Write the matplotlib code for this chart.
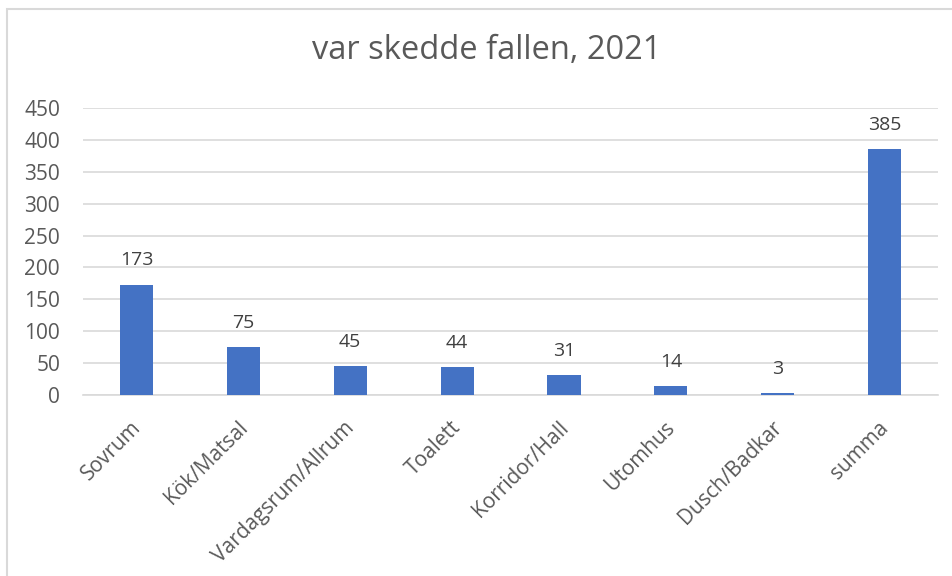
import matplotlib.pyplot as plt
from matplotlib.patches import Rectangle
from matplotlib.transforms import ScaledTranslation

categories = ["Sovrum", "Kök/Matsal", "Vardagsrum/Allrum", "Toalett",
              "Korridor/Hall", "Utomhus", "Dusch/Badkar", "summa"]
counts = [173, 75, 45, 44, 31, 14, 3, 385]
yticks = [0, 50, 100, 150, 200, 250, 300, 350, 400, 450]

plt.rcParams['font.family'] = ['Open Sans', 'DejaVu Sans']
text_color = "#595959"
bar_color = "#4472C4"

fig = plt.figure(figsize=(9.53, 5.76), dpi=100)
ax = fig.add_axes([0.0871, 0.3142, 0.8972, 0.4983])

# chart area border (only left/top visible in the crop)
fig.patches.append(Rectangle((7 / 953, -0.1), 1.2, 1 - 9 / 576 + 0.1,
                             transform=fig.transFigure, fill=False,
                             edgecolor="#d9d9d9", linewidth=1.5))

x = range(len(categories))
ax.bar(x, counts, width=0.31, color=bar_color, zorder=3)
for i, v in zip(x, counts):
    ax.annotate(str(v), (i, v), xytext=(0, 11), textcoords="offset points",
                ha="center", va="bottom", fontsize=14, color="#404040")

ax.set_xlim(-0.5, len(categories) - 0.5)
ax.set_ylim(0, 450)
ax.set_yticks(yticks)
ax.set_yticklabels([str(t) for t in yticks], fontsize=15, color=text_color)
ax.set_xticks(list(x))
ax.set_xticklabels(categories, rotation=45, ha="right", rotation_mode="anchor",
                   fontsize=15, color=text_color)
ax.tick_params(axis="both", length=0)
ax.tick_params(axis="y", pad=16.5)
ax.tick_params(axis="x", pad=16)
shift = ScaledTranslation(-4.5 / 72, 0, fig.dpi_scale_trans)
for lbl in ax.get_xticklabels():
    lbl.set_transform(lbl.get_transform() + shift)
ax.grid(axis="y", color="#d9d9d9", linewidth=1.2, zorder=0)
for s in ["top", "right", "left"]:
    ax.spines[s].set_visible(False)
ax.spines["bottom"].set_color("#d9d9d9")
ax.spines["bottom"].set_linewidth(1.2)

fig.text(0.511, 0.913, "var skedde fallen, 2021", ha="center", va="center",
         fontsize=23.5, color=text_color)

fig.savefig("out.png", dpi=100)
